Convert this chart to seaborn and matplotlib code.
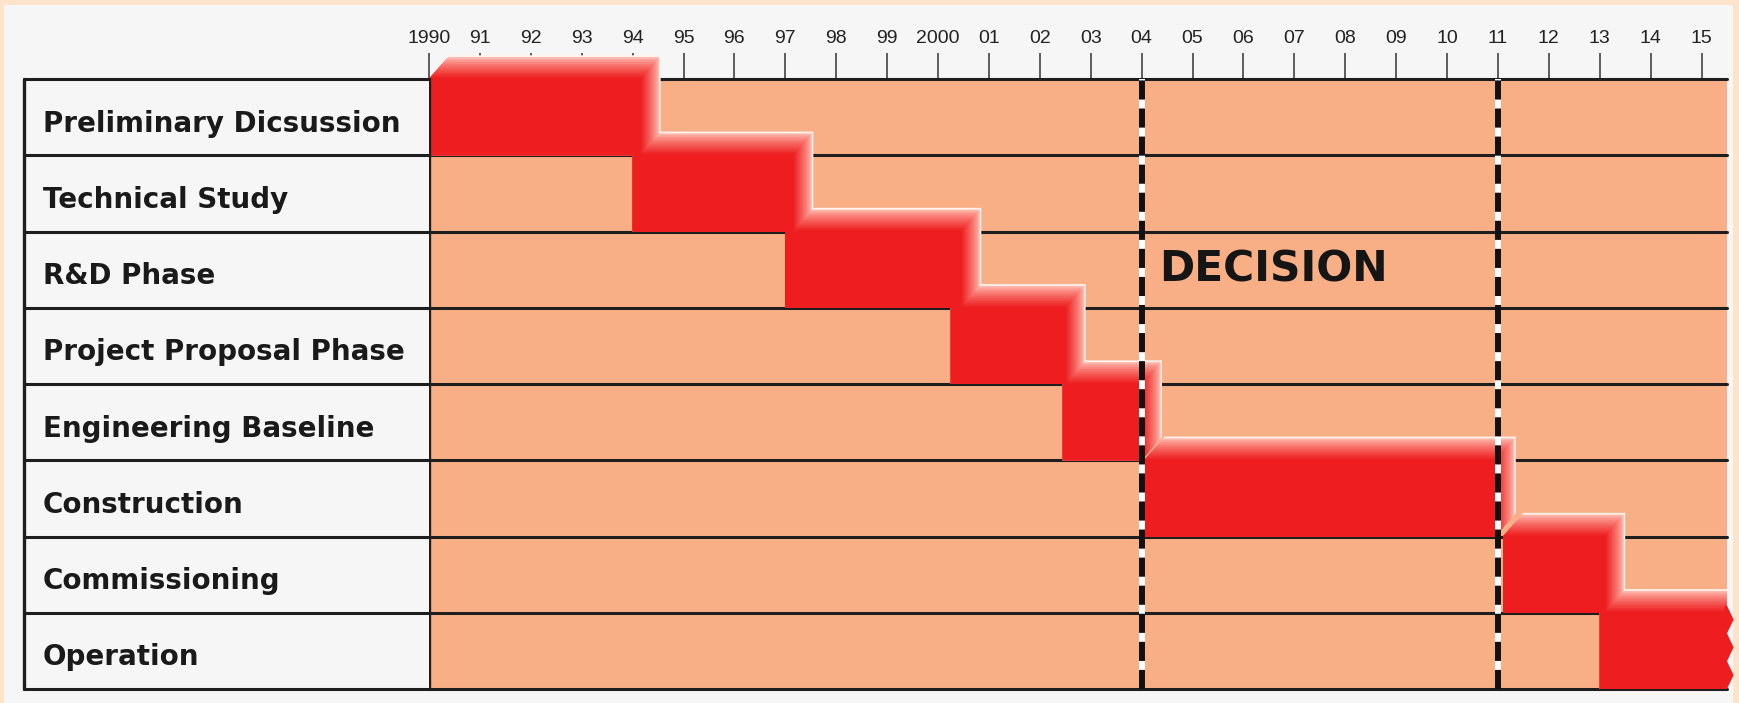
import matplotlib.pyplot as plt
import matplotlib.colors as mcolors
from matplotlib.patches import Polygon, Rectangle
import numpy as np
import seaborn as sns


# Schedule data (years)
tasks = ['Preliminary Dicsussion', 'Technical Study', 'R&D Phase',
         'Project Proposal Phase', 'Engineering Baseline', 'Construction',
         'Commissioning', 'Operation']
starts = [1990.0, 1994.0, 1997.0, 2000.25, 2002.45, 2004.05, 2011.1, 2013.0]
ends = [1994.15, 1997.15, 2000.45, 2002.5, 2004.0, 2010.95, 2013.1, 2015.5]
decision_years = [2004, 2011]
tick_years = list(range(1990, 2016))
tick_labels = ['1990', '91', '92', '93', '94', '95', '96', '97', '98', '99',
               '2000', '01', '02', '03', '04', '05', '06', '07', '08', '09',
               '10', '11', '12', '13', '14', '15']

FRAME = '#FEE3CB'
PANEL = '#F6F6F6'
PEACH = '#F8AF86'
RED = '#EE1D1F'
LINE = '#1E1E1E'

# extrusion of the 3d-ish bars, in data units
DX, DY = 0.40, 0.31

W, H = 1740, 703

sns.set_theme(style='white')
plt.rcParams['font.family'] = ['Liberation Sans', 'DejaVu Sans']

fig = plt.figure(figsize=(W / 100, H / 100), dpi=100)
fig.patch.set_facecolor(FRAME)
fig.add_artist(Rectangle((4 / W, 0), (1733 - 4) / W, (H - 5) / H,
                         transform=fig.transFigure, facecolor=PANEL,
                         edgecolor='none', zorder=-10))

top_px, bot_px = 79, 689
ax = fig.add_axes([429 / W, 1 - bot_px / H, (1727 - 429) / W,
                   (bot_px - top_px) / H])
tab = fig.add_axes([24 / W, 1 - bot_px / H, (429 - 24) / W,
                    (bot_px - top_px) / H])

# peach row bands
sns.barplot(x=[ends[-1] + 1] * len(tasks), y=tasks, orient='h', ax=ax,
            color=PEACH, saturation=1, width=1.0, linewidth=0, zorder=1)
ax.set_xlim(1990, 2015.5)
ax.set_ylim(len(tasks) - 0.5, -0.5)
ax.set_xlabel('')
ax.set_ylabel('')
ax.set_facecolor(PEACH)
for s in ax.spines.values():
    s.set_visible(False)

# row separators
for b in np.arange(-0.5, len(tasks) + 0.5):
    ax.axhline(b, color=LINE, lw=2.2, zorder=2, clip_on=False)
    tab.axhline(b, color=LINE, lw=2.2, zorder=2, clip_on=False)


# glow / extrusion, drawn level by level so neighbours merge
def glow_poly(x0, x1, row, t):
    top, bot = row - 0.5, row + 0.5
    ox, oy = DX * t, DY * t
    return [(x0, bot), (x0, top), (x0 + ox, top - oy), (x1 + ox, top - oy),
            (x1 + ox, bot - oy), (x1, bot)]


pale = np.array(mcolors.to_rgb('#FFB8AC'))
red = np.array(mcolors.to_rgb(RED))
levels = np.linspace(1.0, 0.05, 14)
last = len(tasks) - 1
for k, t in enumerate(levels):
    if k == 0:
        col = '#FFF4F0'
    else:
        m = ((k - 1) / (len(levels) - 2)) ** 0.8
        col = tuple(pale * (1 - m) + red * m)
    for i, (x0, x1) in enumerate(zip(starts, ends)):
        ax.add_patch(Polygon(glow_poly(x0, x1, i, t), closed=True,
                             facecolor=col, edgecolor='none', zorder=3,
                             clip_on=(i == last)))

# solid bars
ax.barh(range(len(tasks)), np.array(ends) - np.array(starts), left=starts,
        height=1.0, color=RED, linewidth=0, zorder=4)

# ragged open end of the last bar
zig_y = np.linspace(last - 0.5 - DY * 0.3, last + 0.5, 7)
zig_x = [ends[-1] + (0.13 if j % 2 == 1 else 0.0) for j in range(len(zig_y))]
pts = [(ends[-1] - 0.05, zig_y[0])] + list(zip(zig_x, zig_y)) + \
      [(ends[-1] - 0.05, zig_y[-1])]
ax.add_patch(Polygon(pts, closed=True, facecolor=RED, edgecolor='none',
                     zorder=4, clip_on=False))

# decision lines
for yr in decision_years:
    ax.axvline(yr, color='white', lw=4.3, zorder=6)
    ax.axvline(yr, color='#111111', lw=4.3, dashes=(3.2, 1.5), zorder=7)

ax.axvline(1990, color=LINE, lw=2.4, zorder=8, clip_on=False)

ax.text(2004.34, 2, 'DECISION', fontsize=30.5, fontweight='bold',
        family='DejaVu Sans', color='#151515', ha='left', va='center',
        zorder=9)

# year ticks on top
ax.xaxis.tick_top()
ax.set_xticks(tick_years)
ax.set_xticklabels(tick_labels)
ax.set_yticks([])
ax.tick_params(axis='x', which='major', top=True, bottom=False,
               length=18.7, width=1.1, color='#333333', pad=4.3,
               labelsize=14, labelcolor='#222222', direction='out')
ax.grid(False)

# task table on the left
tab.set_xlim(0, 1)
tab.set_ylim(len(tasks) - 0.5, -0.5)
tab.set_facecolor(PANEL)
tab.set_xticks([])
tab.set_yticks([])
for s in tab.spines.values():
    s.set_visible(False)
tab.axvline(0, color=LINE, lw=2.4, clip_on=False)
for i, name in enumerate(tasks):
    tab.text(0.047, i + 0.19, name, fontsize=20, fontweight='bold',
             family='DejaVu Sans', color='#1A1A1A', ha='left',
             va='baseline')

fig.savefig('out.png', dpi=100, facecolor=FRAME)
